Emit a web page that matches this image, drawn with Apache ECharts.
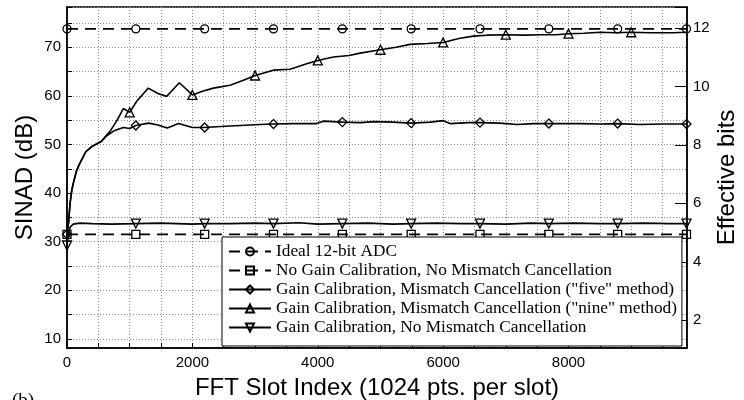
<!DOCTYPE html>
<html>
<head>
<meta charset="utf-8">
<script src="https://cdn.jsdelivr.net/npm/echarts@6/dist/echarts.min.js"></script>
<style>
html,body{margin:0;padding:0;background:#fff;}
#chart{width:744px;height:400px;}
</style>
</head>
<body>
<div id="chart"></div>
<script>
// ---- data ----
const seriesNames = [
  'Ideal 12-bit ADC',
  'No Gain Calibration, No Mismatch Cancellation',
  'Gain Calibration, Mismatch Cancellation ("five" method)',
  'Gain Calibration, Mismatch Cancellation ("nine" method)',
  'Gain Calibration, No Mismatch Cancellation'
];

const idealX = [0, 1098, 2196, 3294, 4392, 5490, 6588, 7686, 8784, 9882];
const idealY = [73.8, 73.8, 73.8, 73.8, 73.8, 73.8, 73.8, 73.8, 73.8, 73.8];

const noGainX = [0, 1098, 2196, 3294, 4392, 5490, 6588, 7686, 8784, 9882];
const noGainY = [31.5, 31.5, 31.5, 31.5, 31.5, 31.5, 31.5, 31.5, 31.5, 31.5];

const fiveX = [0, 25, 50, 75, 100, 150, 200, 300, 400, 500, 550, 633, 750, 900, 1000, 1098, 1300, 1450, 1600, 1780, 2000, 2196, 2450, 2760, 3080, 3294, 3600, 3980, 4090, 4392, 4680, 4890, 5200, 5490, 5800, 6000, 6110, 6400, 6588, 6900, 7180, 7450, 7686, 8190, 8500, 8784, 9140, 9500, 9882];
const fiveY = [31.5, 34.0, 38.0, 40.5, 42.0, 44.5, 46.0, 48.5, 49.6, 50.3, 50.6, 51.8, 52.8, 53.5, 53.3, 53.9, 54.4, 54.0, 53.4, 54.3, 53.5, 53.5, 53.7, 53.9, 54.1, 54.2, 54.3, 54.3, 54.8, 54.6, 54.5, 54.7, 54.6, 54.4, 54.6, 54.9, 54.3, 54.5, 54.5, 54.4, 54.1, 54.3, 54.3, 54.3, 54.2, 54.3, 54.1, 54.2, 54.2];
const fiveMarkX = [0, 1098, 2196, 3294, 4392, 5490, 6588, 7686, 8784, 9882];

const nineX = [0, 25, 50, 75, 100, 150, 200, 300, 400, 500, 550, 686, 800, 898, 1000, 1112, 1297, 1450, 1590, 1792, 2000, 2150, 2335, 2601, 2814, 3000, 3292, 3558, 3824, 4000, 4250, 4500, 4675, 5000, 5250, 5473, 5750, 6000, 6250, 6483, 6700, 7000, 7300, 7548, 7800, 8000, 8250, 8505, 8750, 9000, 9300, 9670, 9882];
const nineY = [31.5, 34.0, 38.0, 40.5, 42.0, 44.5, 46.0, 48.5, 49.6, 50.3, 50.7, 52.7, 55.0, 57.4, 56.6, 58.9, 61.6, 60.5, 59.9, 62.7, 60.2, 60.9, 61.6, 62.2, 63.2, 64.2, 65.3, 65.5, 66.6, 67.3, 68.0, 68.3, 68.8, 69.5, 70.0, 70.6, 70.8, 71.0, 71.8, 72.3, 72.5, 72.6, 72.5, 72.6, 72.6, 72.8, 72.9, 73.1, 73.0, 73.1, 73.0, 73.0, 73.1];
const nineMarkX = [1000, 2000, 3000, 4000, 5000, 6000, 7000, 8000, 9000];

const noMisX = [0, 25, 50, 75, 100, 200, 400, 700, 1098, 1500, 2000, 2196, 2600, 3000, 3294, 3700, 4000, 4392, 4800, 5200, 5490, 5900, 6300, 6588, 7000, 7400, 7686, 8100, 8500, 8784, 9200, 9600, 9882];
const noMisY = [29.2, 31.5, 33.0, 33.4, 33.6, 33.8, 33.7, 33.6, 33.7, 33.8, 33.6, 33.7, 33.7, 33.8, 33.7, 33.9, 33.6, 33.7, 33.8, 33.6, 33.7, 33.8, 33.7, 33.7, 33.6, 33.8, 33.7, 33.8, 33.7, 33.7, 33.8, 33.7, 33.7];
const noMisMarkX = [0, 1098, 2196, 3294, 4392, 5490, 6588, 7686, 8784, 9882];

const xLabelValues = [0, 2000, 4000, 6000, 8000];
const sinadLabelValues = [10, 20, 30, 40, 50, 60, 70];
const bitsLabelValues = [2, 4, 6, 8, 10, 12];

// axis ranges
const X_MIN = 0, X_MAX = 9890;
const SINAD_MIN = 8.1, SINAD_MAX = 78.3;
// Effective bits = (SINAD - 1.76) / 6.02
const BITS_MIN = (SINAD_MIN - 1.76) / 6.02;
const BITS_MAX = (SINAD_MAX - 1.76) / 6.02;

// ---- build ----
function buildData(xs, ys, marks) {
  return xs.map((x, i) => {
    const item = { value: [x, ys[i]] };
    if (marks && marks.indexOf(x) < 0) item.symbol = 'none';
    return item;
  });
}

const SANS = '"Liberation Sans", Arial, sans-serif';
const SERIF = '"Liberation Serif", "Times New Roman", serif';
const near = (v, arr) => arr.some(a => Math.abs(a - v) < 1e-6);

const lineBase = {
  type: 'line',
  showSymbol: true,
  symbolSize: 8,
  animation: false,
  emphasis: { disabled: true },
  itemStyle: { color: 'rgba(255,255,255,0)', borderColor: '#000', borderWidth: 1.3 }
};

const chart = echarts.init(document.getElementById('chart'), null, { renderer: 'canvas' });
chart.setOption({
  animation: false,
  backgroundColor: '#fff',
  grid: { left: 67, right: 57, top: 7, bottom: 52, outerBoundsMode: 'none', containLabel: false, show: true, borderColor: '#000', borderWidth: 1.5, backgroundColor: 'transparent' },
  legend: {
    orient: 'vertical',
    left: 222,
    top: 237,
    padding: [6, 5, 10, 6],
    itemGap: 2,
    itemWidth: 42,
    itemHeight: 10,
    backgroundColor: '#fff',
    borderColor: '#000',
    borderWidth: 1,
    borderRadius: 0,
    textStyle: { fontFamily: SERIF, fontSize: 17.3, color: '#000' },
    data: seriesNames
  },
  xAxis: {
    type: 'value',
    min: X_MIN,
    max: X_MAX,
    interval: 500,
    name: 'FFT Slot Index (1024 pts. per slot)',
    nameLocation: 'middle',
    nameGap: 28,
    nameMoveOverlap: false,
    nameTextStyle: { fontFamily: SANS, fontSize: 24, color: '#000' },
    axisLine: { lineStyle: { color: '#000', width: 1.5 } },
    axisTick: { inside: true, length: 5, lineStyle: { color: '#000' } },
    axisLabel: { formatter: v => near(v, xLabelValues) ? String(v) : '', fontFamily: SANS, fontSize: 15, color: '#000', margin: 7, showMaxLabel: false },
    splitLine: { show: true, lineStyle: { type: [1, 2], color: '#888', width: 1 } }
  },
  yAxis: [
    {
      type: 'value',
      position: 'left',
      min: SINAD_MIN,
      max: SINAD_MAX,
      splitNumber: 14,
      name: 'SINAD (dB)',
      nameLocation: 'middle',
      nameRotate: 90,
      nameGap: 30,
      nameMoveOverlap: false,
      nameTextStyle: { fontFamily: SANS, fontSize: 24, color: '#000' },
      axisLine: { show: true, lineStyle: { color: '#000', width: 1.5 } },
      axisTick: { show: true, inside: true, length: 5, lineStyle: { color: '#000' } },
      axisLabel: { formatter: v => near(v, sinadLabelValues) ? String(v) : '', fontFamily: SANS, fontSize: 15, color: '#000', margin: 6 },
      splitLine: { show: true, lineStyle: { type: [1, 2], color: '#888', width: 1 } }
    },
    {
      type: 'value',
      position: 'right',
      min: BITS_MIN,
      max: BITS_MAX,
      splitNumber: 6,
      name: 'Effective bits',
      nameLocation: 'middle',
      nameRotate: 90,
      nameGap: 28.5,
      nameMoveOverlap: false,
      nameTextStyle: { fontFamily: SANS, fontSize: 24, color: '#000' },
      axisLine: { show: true, lineStyle: { color: '#000', width: 1.5 } },
      axisTick: { show: true, inside: true, length: 12, lineStyle: { color: '#000' } },
      axisLabel: { formatter: v => near(v, bitsLabelValues) ? String(v) : '', fontFamily: SANS, fontSize: 15, color: '#000', margin: 6 },
      splitLine: { show: false }
    }
  ],
  graphic: [
    { type: 'text', left: 12, top: 392, style: { text: '(b)', font: '19px ' + SERIF, fill: '#000' } }
  ],
  series: [
    Object.assign({}, lineBase, {
      name: seriesNames[0], symbol: 'circle', symbolSize: 8,
      lineStyle: { color: '#000', width: 1.6, type: [11, 7] },
      data: buildData(idealX, idealY, null)
    }),
    Object.assign({}, lineBase, {
      name: seriesNames[1], symbol: 'rect', symbolSize: 8,
      lineStyle: { color: '#000', width: 1.6, type: [11, 7] },
      data: buildData(noGainX, noGainY, null)
    }),
    Object.assign({}, lineBase, {
      name: seriesNames[2], symbol: 'diamond', symbolSize: [9, 9],
      lineStyle: { color: '#000', width: 1.6 },
      data: buildData(fiveX, fiveY, fiveMarkX)
    }),
    Object.assign({}, lineBase, {
      name: seriesNames[3], symbol: 'triangle', symbolSize: 9,
      lineStyle: { color: '#000', width: 1.6 },
      data: buildData(nineX, nineY, nineMarkX)
    }),
    Object.assign({}, lineBase, {
      name: seriesNames[4], symbol: 'triangle', symbolSize: 9, symbolRotate: 180,
      lineStyle: { color: '#000', width: 1.6 },
      data: buildData(noMisX, noMisY, noMisMarkX)
    })
  ]
});
</script>
</body>
</html>
